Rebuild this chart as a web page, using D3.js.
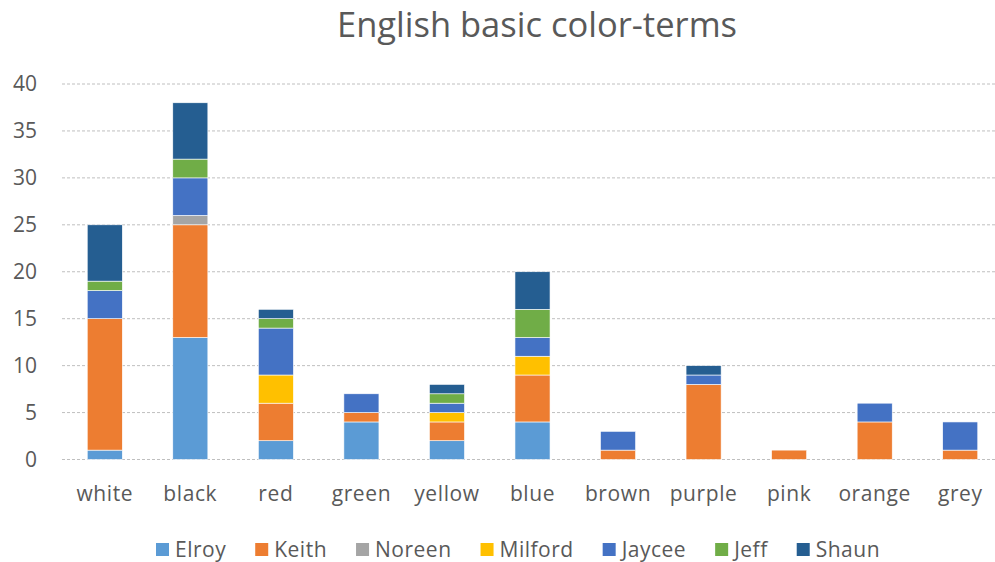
<!DOCTYPE html>
<html><head><meta charset="utf-8">
<script src="https://cdn.jsdelivr.net/npm/d3@7"></script>
<style>body{margin:0;background:#fff}svg{display:block}text{font-family:"Open Sans",sans-serif}</style>
</head><body><svg id="c" width="995" height="562"></svg>
<script>
const categories = ["white","black","red","green","yellow","blue","brown","purple","pink","orange","grey"];
const seriesNames = ["Elroy","Keith","Noreen","Milford","Jaycee","Jeff","Shaun"];
const Elroy   = [1,13,2,4,2,4,0,0,0,0,0];
const Keith   = [14,12,4,1,2,5,1,8,1,4,1];
const Noreen  = [0,1,0,0,0,0,0,0,0,0,0];
const Milford = [0,0,3,0,1,2,0,0,0,0,0];
const Jaycee  = [3,4,5,2,1,2,2,1,0,2,3];
const Jeff    = [1,2,1,0,1,3,0,0,0,0,0];
const Shaun   = [6,6,1,0,1,4,0,1,0,0,0];
const yTicks = [0,5,10,15,20,25,30,35,40];
const colors = ["#5B9BD5","#ED7D31","#A5A5A5","#FFC000","#4472C4","#70AD47","#255E91"];
const title = "English basic color-terms";

const seriesVals = [Elroy,Keith,Noreen,Milford,Jaycee,Jeff,Shaun];
const rows = categories.map((c,i)=>{const r={cat:c};seriesNames.forEach((s,j)=>r[s]=seriesVals[j][i]);return r;});
const stack = d3.stack().keys(seriesNames)(rows);

const svg = d3.select("#c");
const x = d3.scaleBand().domain(categories).range([62,1003]).paddingInner(0.59).paddingOuter(0.295);
const y = d3.scaleLinear().domain([0,40]).range([459.5,84]);

// gridlines
svg.append("g").selectAll("line").data(yTicks).join("line")
  .attr("x1",62).attr("x2",995).attr("y1",d=>y(d)).attr("y2",d=>y(d))
  .attr("stroke","#bfbfbf").attr("stroke-width",1).attr("stroke-dasharray","3,2");

// y labels
svg.append("g").selectAll("text").data(yTicks).join("text")
  .attr("x",37).attr("y",d=>y(d)).attr("dy","0.35em").attr("text-anchor","end")
  .attr("fill","#595959").attr("font-size",21).text(d=>d);

// bars
svg.append("g").selectAll("g").data(stack).join("g")
  .attr("fill",(d,i)=>colors[i])
  .selectAll("rect").data(d=>d.filter(p=>p[1]-p[0]>0)).join("rect")
  .attr("x",d=>x(d.data.cat)).attr("width",x.bandwidth())
  .attr("y",d=>y(d[1])).attr("height",d=>y(d[0])-y(d[1]))
  .attr("stroke","#ffffff").attr("stroke-width",0.6);

// x labels
svg.append("g").selectAll("text").data(categories).join("text")
  .attr("x",d=>x(d)+x.bandwidth()/2).attr("y",494).attr("dy","0.35em").attr("text-anchor","middle")
  .attr("fill","#595959").attr("font-size",21).attr("letter-spacing",0.6).text(d=>d);

// title
svg.append("text").attr("x",537).attr("y",25).attr("dy","0.35em").attr("text-anchor","middle")
  .attr("fill","#595959").attr("font-size",34.5).text(title);

// legend
const lg = svg.append("g");
let lx = 156;
seriesNames.forEach((s,i)=>{
  lg.append("rect").attr("x",lx).attr("y",543).attr("width",13).attr("height",13).attr("fill",colors[i]);
  const t = lg.append("text").attr("x",lx+19).attr("y",549.5).attr("dy","0.35em").attr("fill","#595959").attr("font-size",21).attr("letter-spacing",0.5).text(s);
  lx += 19 + t.node().getComputedTextLength() + 29;
});
</script></body></html>
